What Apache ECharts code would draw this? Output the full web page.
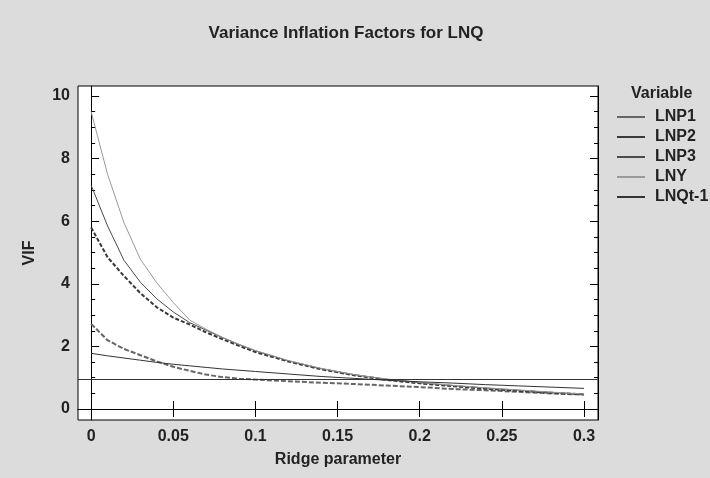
<!DOCTYPE html>
<html>
<head>
<meta charset="utf-8">
<script src="https://cdn.jsdelivr.net/npm/echarts@6/dist/echarts.min.js"></script>
<style>
  html, body { margin: 0; padding: 0; background: #dcdcdc; }
  #chart { width: 710px; height: 478px; }
</style>
</head>
<body>
<div id="chart"></div>
<script>
// ridge parameter values (x)
const ridge = [0, 0.01, 0.02, 0.03, 0.04, 0.05, 0.06, 0.07, 0.08, 0.09, 0.1,
  0.12, 0.14, 0.16, 0.18, 0.2, 0.22, 0.24, 0.26, 0.28, 0.3]

// VIF per variable
const lnp1 = [2.72, 2.2, 1.92, 1.72, 1.52, 1.35, 1.22, 1.1, 1.02, 0.97, 0.94,
  0.89, 0.84, 0.8, 0.75, 0.7, 0.64, 0.6, 0.55, 0.5, 0.46]
const lnp2 = [5.8, 4.85, 4.25, 3.7, 3.25, 2.92, 2.7, 2.45, 2.23, 2.02, 1.82,
  1.52, 1.27, 1.08, 0.93, 0.82, 0.73, 0.65, 0.58, 0.52, 0.47]
const lnp3 = [7.15, 5.85, 4.75, 4.05, 3.52, 3.1, 2.76, 2.52, 2.28, 2.06, 1.86,
  1.54, 1.29, 1.1, 0.95, 0.84, 0.75, 0.67, 0.6, 0.53, 0.47]
const lny = [9.5, 7.5, 5.95, 4.78, 4.03, 3.4, 2.84, 2.55, 2.29, 2.07, 1.87,
  1.55, 1.3, 1.1, 0.96, 0.85, 0.76, 0.68, 0.61, 0.54, 0.48]
const lnqt1 = [1.78, 1.7, 1.63, 1.56, 1.49, 1.43, 1.38, 1.33, 1.28, 1.24, 1.2,
  1.12, 1.04, 0.98, 0.92, 0.87, 0.83, 0.78, 0.74, 0.7, 0.66]

const refLine = 0.95

const xTicks = [0, 0.05, 0.1, 0.15, 0.2, 0.25, 0.3]
const yTicks = [0, 2, 4, 6, 8, 10]

// minor ticks every 0.5 on the y axis
const yMinor = []
for (let v = 0; v <= 10; v += 0.5) yMinor.push(v)

const font = 'Liberation Sans, Arial, sans-serif'
const labelStyle = { color: '#222', fontFamily: font, fontWeight: 'bold', fontSize: 16 }
const axisLine = { show: true, lineStyle: { color: '#000', width: 1 } }

const names = ['LNP1', 'LNP2', 'LNP3', 'LNY', 'LNQt-1']
const values = [lnp1, lnp2, lnp3, lny, lnqt1]
const colors = ['#666', '#3a3a3a', '#4a4a4a', '#9a9a9a', '#333']
const styles = [
  { type: [5, 2], width: 2 },
  { type: [4, 2], width: 2 },
  { type: 'solid', width: 1 },
  { type: 'solid', width: 1 },
  { type: 'solid', width: 1 }
]

const series = names.map((n, i) => ({
  name: n,
  type: 'line',
  xAxisIndex: 0,
  yAxisIndex: 0,
  showSymbol: false,
  symbol: 'none',
  silent: true,
  data: ridge.map((r, j) => [r, values[i][j]]),
  lineStyle: { color: colors[i], type: styles[i].type, width: styles[i].width },
  itemStyle: { color: colors[i] }
}))

// horizontal reference line across the whole plot
series[4].markLine = {
  silent: true,
  symbol: 'none',
  label: { show: false },
  lineStyle: { color: '#333', type: 'solid', width: 1 },
  data: [{ yAxis: refLine }]
}

const xMin = -0.008, xMax = 0.3085
const yMin = -0.35, yMax = 10.32

const option = {
  backgroundColor: '#dcdcdc',
  animation: false,
  title: {
    text: 'Variance Inflation Factors for LNQ',
    left: 341,
    top: 20,
    textAlign: 'center',
    textStyle: { fontFamily: font, fontWeight: 'bold', fontSize: 17, color: '#222' }
  },
  graphic: [{
    type: 'text',
    left: 631,
    top: 86,
    style: { text: 'Variable', fill: '#222', font: 'bold 16px ' + font }
  }],
  legend: {
    orient: 'vertical',
    left: 617,
    top: 108,
    padding: 0,
    itemGap: 2,
    itemWidth: 28,
    itemHeight: 2,
    icon: 'rect',
    textStyle: { color: '#222', fontFamily: font, fontWeight: 'bold', fontSize: 16, lineHeight: 18, padding: [0, 0, 0, 5] },
    data: names
  },
  grid: {
    left: 78, top: 86, width: 520, height: 334,
    show: true, backgroundColor: '#fff', borderColor: '#000', borderWidth: 1
  },
  xAxis: [{
    type: 'value', min: xMin, max: xMax, position: 'bottom',
    name: 'Ridge parameter', nameLocation: 'middle', nameGap: 32,
    nameTextStyle: labelStyle,
    axisLine: axisLine,
    axisTick: { show: true, inside: true, length: 8, customValues: xTicks, lineStyle: { color: '#000' } },
    axisLabel: Object.assign({ customValues: xTicks, margin: 9 }, labelStyle),
    splitLine: { show: false }
  }, {
    type: 'value', min: xMin, max: xMax, position: 'top',
    axisLine: axisLine,
    axisTick: { show: true, inside: true, length: 8, customValues: xTicks, lineStyle: { color: '#000' } },
    axisLabel: { show: false },
    splitLine: { show: false }
  }],
  yAxis: [{
    type: 'value', min: yMin, max: yMax, position: 'left',
    name: 'VIF', nameLocation: 'middle', nameGap: 40, nameRotate: 90,
    nameTextStyle: labelStyle,
    axisLine: axisLine,
    axisTick: { show: true, inside: true, length: 8, customValues: yTicks, lineStyle: { color: '#000' } },
    axisLabel: Object.assign({ customValues: yTicks, margin: 8 }, labelStyle),
    splitLine: { show: false }
  }, {
    type: 'value', min: yMin, max: yMax, position: 'left',
    axisLine: { show: false },
    axisTick: { show: true, inside: true, length: 4, customValues: yMinor, lineStyle: { color: '#000' } },
    axisLabel: { show: false },
    splitLine: { show: false }
  }, {
    type: 'value', min: yMin, max: yMax, position: 'right',
    axisLine: axisLine,
    axisTick: { show: true, inside: true, length: 8, customValues: yTicks, lineStyle: { color: '#000' } },
    axisLabel: { show: false },
    splitLine: { show: false }
  }, {
    type: 'value', min: yMin, max: yMax, position: 'right',
    axisLine: { show: false },
    axisTick: { show: true, inside: true, length: 4, customValues: yMinor, lineStyle: { color: '#000' } },
    axisLabel: { show: false },
    splitLine: { show: false }
  }],
  series: series
}

const chart = echarts.init(document.getElementById('chart'))
chart.setOption(option)
</script>
</body>
</html>
